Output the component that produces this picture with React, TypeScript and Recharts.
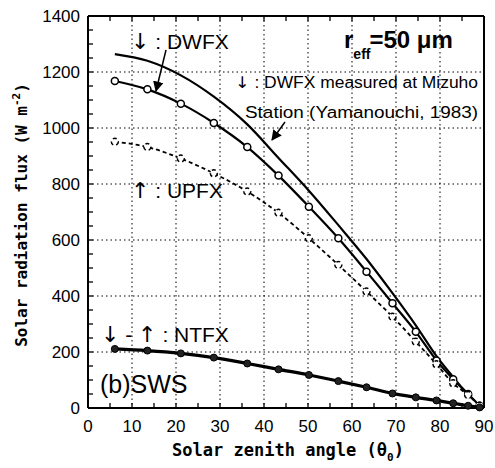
import { LineChart, Line, XAxis, YAxis, CartesianGrid } from 'recharts';

const angles = [6.1, 13.5, 21.1, 28.6, 36.2, 43.3, 50.2, 56.9, 63.3, 69.2, 74.5, 79.2, 83.0, 86.4, 89.0];
const dwfxMeasured = [1264, 1240, 1188, 1112, 1013, 893, 776, 653, 532, 410, 295, 185, 110, 45, null];
const dwfxModel = [1168, 1138, 1087, 1018, 932, 830, 719, 606, 487, 374, 272, 170, 103, 50, 8];
const upfx = [951, 932, 891, 838, 773, 697, 606, 511, 416, 326, 237, 156, 88, 46, 8];
const ntfx = [211, 205, 195, 180, 159, 138, 118, 96, 74, 52, 38, 27, 17, 8, 2];

const xTicks = [0, 10, 20, 30, 40, 50, 60, 70, 80, 90];
const yTicks = [0, 200, 400, 600, 800, 1000, 1200, 1400];
const xMinor = [0, 5, 10, 15, 20, 25, 30, 35, 40, 45, 50, 55, 60, 65, 70, 75, 80, 85, 90];
const yMinor = [0, 50, 100, 150, 200, 250, 300, 350, 400, 450, 500, 550, 600, 650, 700, 750, 800, 850, 900, 950, 1000, 1050, 1100, 1150, 1200, 1250, 1300, 1350, 1400];

const data = angles.map((a, i) => ({
  angle: a,
  measured: dwfxMeasured[i],
  dwfx: dwfxModel[i],
  upfx: upfx[i],
  ntfx: ntfx[i],
}));

const sans = '"Liberation Sans", Arial, sans-serif';
const mono = '"DejaVu Sans Mono", monospace';
const arrowFont = '"DejaVu Sans", sans-serif';

const openDot = { r: 3.5, fill: '#fff', stroke: '#000', strokeWidth: 1.5 };
const solidDot = { r: 3.5, fill: '#222', stroke: '#000', strokeWidth: 1 };
const blank = () => '';
const tickStroke = { stroke: '#000', strokeWidth: 1.3 };
const frame = { stroke: '#000', strokeWidth: 2 };
const labelStyle = { fill: '#000', fontSize: 17, fontFamily: sans };

export default function App() {
  return (
    <div style={{ position: 'absolute', left: 0, top: 0, width: 495, height: 468, background: '#fff' }}>
      <LineChart width={495} height={468} data={data} margin={{ top: 8, right: 3, bottom: 0, left: 0 }}>
        <CartesianGrid stroke="#000" strokeWidth={1} strokeDasharray="1.5 3" verticalValues={xTicks} horizontalValues={yTicks} />
        <XAxis
          dataKey="angle"
          type="number"
          domain={[0, 90]}
          ticks={xMinor}
          interval={0}
          height={60}
          tickSize={-5}
          tickMargin={17}
          tickFormatter={(v: number) => (v % 10 === 0 ? String(v) : '')}
          tickLine={tickStroke}
          axisLine={frame}
          tick={labelStyle}
        />
        <YAxis
          type="number"
          domain={[0, 1400]}
          ticks={yMinor}
          interval={0}
          width={88}
          tickSize={-5}
          tickMargin={13}
          tickFormatter={(v: number) => (v % 200 === 0 ? String(v) : '')}
          tickLine={tickStroke}
          axisLine={frame}
          tick={labelStyle}
        />
        <XAxis xAxisId="top" type="number" dataKey="angle" domain={[0, 90]} ticks={xMinor} interval={0} orientation="top" height={8} tickSize={-5} tickFormatter={blank} tick={{ fontSize: 1 }} axisLine={frame} tickLine={tickStroke} />
        <YAxis yAxisId="right" type="number" domain={[0, 1400]} ticks={yMinor} interval={0} orientation="right" width={8} tickSize={-5} tickFormatter={blank} tick={{ fontSize: 1 }} axisLine={frame} tickLine={tickStroke} />

        <Line type="monotone" dataKey="measured" stroke="#000" strokeWidth={2.2} dot={false} isAnimationActive={false} />
        <Line type="monotone" dataKey="dwfx" stroke="#000" strokeWidth={2.2} dot={openDot} isAnimationActive={false} />
        <Line type="monotone" dataKey="upfx" stroke="#000" strokeWidth={1.8} strokeDasharray="4 3" dot={openDot} isAnimationActive={false} />
        <Line type="monotone" dataKey="ntfx" stroke="#000" strokeWidth={3.2} dot={solidDot} isAnimationActive={false} />
      </LineChart>

      <svg width={495} height={468} style={{ position: 'absolute', left: 0, top: 0, pointerEvents: 'none' }}>
        <defs>
          <marker id="ah" viewBox="0 0 10 10" refX="9" refY="5" markerWidth="7" markerHeight="7" orient="auto">
            <path d="M0,0 L10,5 L0,10 z" fill="#000" />
          </marker>
        </defs>
        <g fill="#000" fontFamily={sans}>
          <text x={131} y={49} fontSize={21}><tspan fontFamily={arrowFont} fontSize={22}>↓</tspan> : DWFX</text>
          <text x={235} y={88} fontSize={16} textLength={243} lengthAdjust="spacingAndGlyphs"><tspan fontFamily={arrowFont}>↓</tspan> : DWFX measured at Mizuho</text>
          <text x={245} y={118} fontSize={16} textLength={233} lengthAdjust="spacingAndGlyphs">Station (Yamanouchi, 1983)</text>
          <text x={131} y={198} fontSize={21}><tspan fontFamily={arrowFont} fontSize={22}>↑</tspan> : UPFX</text>
          <text x={101} y={342} fontSize={21}><tspan fontFamily={arrowFont} fontSize={22}>↓</tspan> - <tspan fontFamily={arrowFont} fontSize={22}>↑</tspan> : NTFX</text>
          <text x={100} y={393} fontSize={25}>(b)SWS</text>
          <text x={344} y={48} fontSize={24} fontWeight="bold">
            r
            <tspan fontSize={14} dy={11}>eff</tspan>
            <tspan fontSize={24} dy={-11} dx={-1}>=50 μm</tspan>
          </text>
        </g>
        <line x1={166} y1={50} x2={156} y2={91} stroke="#000" strokeWidth={1.5} markerEnd="url(#ah)" />
        <line x1={285} y1={122} x2={272} y2={140} stroke="#000" strokeWidth={1.5} markerEnd="url(#ah)" />
        <text x={288} y={456} fontSize={17} fontFamily={mono} fontWeight="bold" textAnchor="middle" fill="#000">
          Solar zenith angle (θ<tspan fontSize={11} dy={5}>0</tspan><tspan dy={-5}>)</tspan>
        </text>
        <text transform="translate(27,215) rotate(-90)" fontSize={16} fontFamily={mono} fontWeight="bold" textAnchor="middle" fill="#000">
          Solar radiation flux (W m<tspan fontSize={11} dy={-7}>-2</tspan><tspan dy={7}>)</tspan>
        </text>
      </svg>
    </div>
  );
}
